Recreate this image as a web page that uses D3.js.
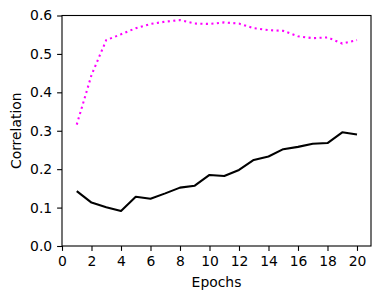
<!DOCTYPE html>
<html>
<head>
<meta charset="utf-8">
<script src="https://cdn.jsdelivr.net/npm/d3@7"></script>
<style>
  body { margin: 0; background: #fff; }
  text { font-family: "DejaVu Sans", sans-serif; }
</style>
</head>
<body>
<div id="chart"></div>
<script>
// data
const epochs = [1, 2, 3, 4, 5, 6, 7, 8, 9, 10, 11, 12, 13, 14, 15, 16, 17, 18, 19, 20]
const dottedSeries = [0.316, 0.445, 0.536, 0.551, 0.567, 0.578, 0.584, 0.588, 0.579, 0.578,
                      0.582, 0.579, 0.567, 0.562, 0.560, 0.546, 0.541, 0.543, 0.527, 0.536]
const solidSeries = [0.143, 0.113, 0.101, 0.091, 0.128, 0.123, 0.137, 0.152, 0.157, 0.185,
                     0.182, 0.198, 0.224, 0.233, 0.252, 0.258, 0.266, 0.268, 0.296, 0.290]
const xTicks = [0, 2, 4, 6, 8, 10, 12, 14, 16, 18, 20]
const yTicks = [0, 0.1, 0.2, 0.3, 0.4, 0.5, 0.6]

const width = 381
const height = 299
const margin = {top: 15.5, bottom: 53, left: 62, right: 10}
const fontSize = "13.9px"

const svg = d3.select("div#chart").append("svg").attr("width", width).attr("height", height)

const x = d3.scaleLinear().domain([0, 20.95]).range([margin.left, width - margin.right])
const y = d3.scaleLinear().domain([0, 0.6]).range([height - margin.bottom, margin.top])

//Axis:
const xAxis = d3.axisBottom(x).tickValues(xTicks).tickSize(4.9).tickPadding(4.9).tickFormat(d3.format("d"))
const yAxis = d3.axisLeft(y).tickValues(yTicks).tickSize(4.9).tickPadding(4.9).tickFormat(d3.format(".1f"))

const xAxisGroup = svg.append("g").attr("transform", `translate(0, ${height - margin.bottom})`).call(xAxis)
const yAxisGroup = svg.append("g").attr("transform", `translate(${margin.left}, 0)`).call(yAxis)

;[xAxisGroup, yAxisGroup].forEach(g => {
  g.select(".domain").remove()
  g.selectAll(".tick line").attr("stroke", "#000").attr("stroke-width", 1.1)
  g.selectAll(".tick text").attr("fill", "#000").style("font-size", fontSize).style("font-family", "DejaVu Sans")
})

// frame
svg.append("rect")
  .attr("x", x(0)).attr("y", y(0.6))
  .attr("width", x(20.95) - x(0)).attr("height", y(0) - y(0.6))
  .attr("fill", "none").attr("stroke", "#000").attr("stroke-width", 1.1)

//lines
const line = d3.line().x((d, i) => x(epochs[i])).y(d => y(d))

svg.append("path")
  .datum(dottedSeries)
  .attr("d", line)
  .attr("fill", "none")
  .attr("stroke", "#ff00ff")
  .attr("stroke-width", 2.08)
  .attr("stroke-dasharray", "2.08,3.43")

svg.append("path")
  .datum(solidSeries)
  .attr("d", line)
  .attr("fill", "none")
  .attr("stroke", "#000")
  .attr("stroke-width", 2.08)
  .attr("stroke-linejoin", "round")

//labels
svg.append("text")
  .text("Epochs")
  .attr("x", (x(0) + x(20.95)) / 2)
  .attr("y", 287)
  .attr("text-anchor", "middle")
  .style("font-size", fontSize)

svg.append("text")
  .text("Correlation")
  .attr("transform", `translate(21, ${(y(0) + y(0.6)) / 2}) rotate(-90)`)
  .attr("text-anchor", "middle")
  .style("font-size", fontSize)
</script>
</body>
</html>
